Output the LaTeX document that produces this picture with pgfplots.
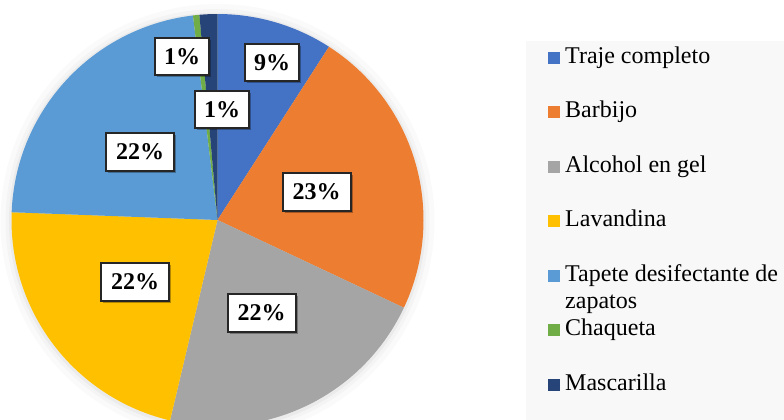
\documentclass[border=0pt]{standalone}
\usepackage{fontspec}
\setmainfont{Liberation Serif}
\usepackage{pgfplots}
\pgfplotsset{compat=1.18}
\usepackage{pgfplotstable}
\usetikzlibrary{shadows}

\definecolor{c0}{HTML}{4472C4}
\definecolor{c1}{HTML}{ED7D31}
\definecolor{c2}{HTML}{A5A5A5}
\definecolor{c3}{HTML}{FFC000}
\definecolor{c4}{HTML}{5B9BD5}
\definecolor{c5}{HTML}{70AD47}
\definecolor{c6}{HTML}{264478}
\definecolor{legbg}{HTML}{F8F8F8}
\definecolor{boxline}{HTML}{262626}

\tikzset{lbl/.style={draw=boxline, line width=2bp, fill=white, inner sep=0pt,
    minimum height=37bp,
    font=\fontsize{24bp}{26bp}\selectfont\bfseries,
    drop shadow={shadow xshift=2bp, shadow yshift=-2bp, opacity=0.3, fill=black}}}

\pgfplotstableread{
item value
0 9.1
1 22.9
2 21.7
3 21.9
4 22.5
5 0.5
6 1.4
}\piedata

\xdef\cumsum{0}
\pgfplotsforeachungrouped \i in {0,...,6}{%
  \pgfplotstablegetelem{\i}{value}\of\piedata
  \pgfmathsetmacro\sA{90-3.6*\cumsum}%
  \pgfmathsetmacro\cumnew{\cumsum+\pgfplotsretval}%
  \pgfmathsetmacro\sB{90-3.6*\cumnew}%
  \expandafter\xdef\csname sliceS\i\endcsname{\sA}%
  \expandafter\xdef\csname sliceE\i\endcsname{\sB}%
  \xdef\cumsum{\cumnew}%
}

\begin{document}
\begin{tikzpicture}
\path[use as bounding box] (0,0) rectangle (784bp,420bp);
\begin{axis}[at={(0,0)}, anchor=south west, scale only axis,
  width=784bp, height=420bp, xmin=0, xmax=784, ymin=0, ymax=420,
  hide axis, clip=true,
  legend cell align=left,
  legend style={at={(0.69898,0.8898)}, anchor=north west, draw=none, fill=none,
    inner sep=0pt, row sep=32bp, column sep=5bp,
    font=\fontsize{24bp}{27bp}\selectfont,
    nodes={inner sep=0pt, text height=17bp, text depth=5.5bp}},
]
\fill[legbg] (axis cs:526,-5) rectangle (axis cs:790,379);
\fill[black, opacity=0.02] (axis cs:217.5,199) circle[radius=217bp];
\fill[black, opacity=0.025] (axis cs:217.5,199) circle[radius=212bp];
\fill[black, opacity=0.035] (axis cs:217.5,199) circle[radius=208.5bp];
\pgfplotsinvokeforeach{0,...,6}{
  \addplot[fill=c#1, draw=none,
    legend image code/.code={\fill[c#1] (0bp,-6bp) rectangle (12bp,6bp);},
    domain={\csname sliceE#1\endcsname}:{\csname sliceS#1\endcsname}, samples=90]
    ({217.5+206*cos(x)},{200+206*sin(x)}) -- (axis cs:217.5,200) -- cycle;
}
\legend{Traje completo, Barbijo, Alcohol en gel, Lavandina,
  {\begin{tabular}[t]{@{}l@{}}Tapete desifectante de\\zapatos\end{tabular}},
  Chaqueta, Mascarilla}
\node[lbl, minimum width=54bp] at (axis cs:272,357) {9\%};
\node[lbl, minimum width=54bp] at (axis cs:182,363) {1\%};
\node[lbl, minimum width=54bp] at (axis cs:222,310) {1\%};
\node[lbl, minimum width=68bp] at (axis cs:140,268) {22\%};
\node[lbl, minimum width=68bp] at (axis cs:316.5,228) {23\%};
\node[lbl, minimum width=68bp] at (axis cs:135,138) {22\%};
\node[lbl, minimum width=68bp] at (axis cs:261.5,107) {22\%};
\end{axis}
\end{tikzpicture}
\end{document}
